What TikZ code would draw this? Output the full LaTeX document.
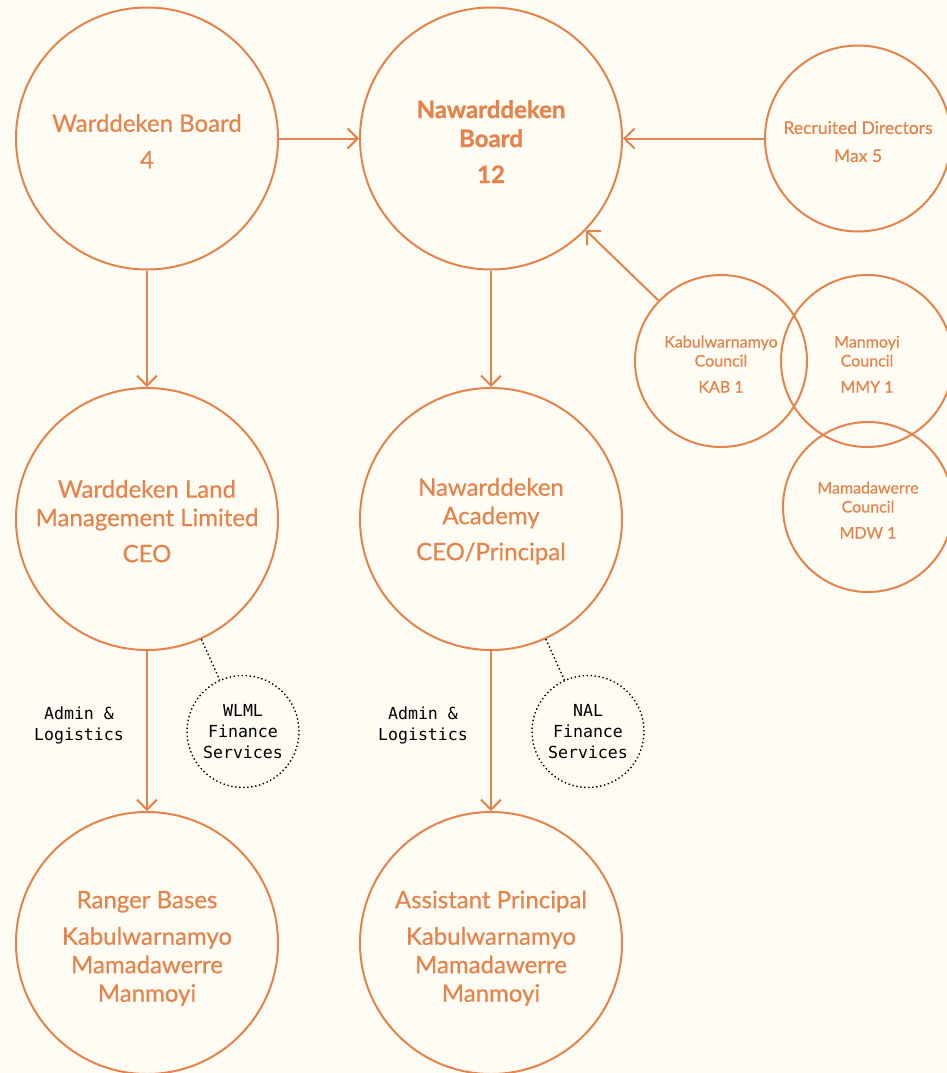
\documentclass[tikz,border=0pt]{standalone}
\usepackage{fontspec}
\setmainfont{Lato}[UprightFeatures={FakeBold=0.45}]
\newfontfamily\heavyfont{Lato}[UprightFeatures={FakeBold=1.2}, BoldFeatures={FakeBold=1.0}]
\newfontfamily\monofont{DejaVu Sans Mono}
\usetikzlibrary{arrows.meta}
\definecolor{ochre}{HTML}{E5834C}
\definecolor{paper}{HTML}{FFFCF4}
\newcommand{\topgap}[1]{\rule{0pt}{#1}}
\tikzset{every node/.style={align=center, text=ochre, font=\fontsize{24}{28.5}\selectfont}}
\tikzset{bigring/.style={circle, draw=ochre, line width=2pt, minimum size=262pt, inner sep=0pt},
  smallring/.style={circle, draw=ochre, line width=2pt, minimum size=172pt, inner sep=0pt,
    font=\fontsize{16}{19}\selectfont},
  finring/.style={circle, draw=black, line width=1.4pt, dash pattern=on 1.4pt off 2.6pt,
    minimum size=112pt, inner sep=0pt, text=black, font=\monofont\fontsize{16.6}{21}\selectfont},
  note/.style={text=black, font=\monofont\fontsize{16.6}{21}\selectfont},
  link/.style={draw=ochre, line width=2pt, -{Straight Barb[length=10pt,width=20pt]}},
  finlink/.style={draw=black, line width=1.4pt, dash pattern=on 1.4pt off 2.6pt}}

\begin{document}
\begin{tikzpicture}[x=1pt, y=-1pt]
  \fill[paper] (0,0) rectangle (947,1073);
  \useasboundingbox (0,0) rectangle (947,1073);
  % top row
  \node[bigring] (wboard) at (147,138.5) {\topgap{23pt}Warddeken Board\\[8pt]4};
  \node[bigring, font=\heavyfont\bfseries\fontsize{24}{29}\selectfont] (nboard) at (491,138.5)
       {\topgap{24pt}Nawarddeken\\Board\\[7pt]12};
  \node[smallring, minimum size=186pt, font=\fontsize{17.5}{21}\selectfont] (recruited) at (858,138.5)
       {\topgap{19pt}Recruited Directors\\[7pt]Max 5};
  % councils
  \node[smallring] (kab) at (721,361) {\topgap{18pt}Kabulwarnamyo\\Council\\[7pt]KAB 1};
  \node[smallring] (mmy) at (867,361) {\topgap{18pt}Manmoyi\\Council\\[7pt]MMY 1};
  \node[smallring, minimum size=170pt] (mdw) at (868,507) {\topgap{18pt}Mamadawerre\\Council\\[7pt]MDW 1};
  % middle row
  \node[bigring] (wlml) at (147,519) {\topgap{22pt}Warddeken Land\\Management Limited\\[7.5pt]CEO};
  \node[bigring] (nal) at (491,519) {\topgap{22pt}Nawarddeken\\Academy\\[7.5pt]CEO/Principal};
  \node[finring] (wlmlfin) at (243,731.5) {WLML\\Finance\\Services};
  \node[finring] (nalfin) at (588,731.5) {NAL\\Finance\\Services};
  \node[note] (wadmin) at (79,725) {Admin \&\\Logistics};
  \node[note] (nadmin) at (423,725) {Admin \&\\Logistics};
  % bottom row
  \node[bigring] (ranger) at (147,943) {\topgap{28pt}Ranger Bases\\[8pt]Kabulwarnamyo\\Mamadawerre\\Manmoyi};
  \node[bigring] (assist) at (491,943) {\topgap{28pt}Assistant Principal\\[8pt]Kabulwarnamyo\\Mamadawerre\\Manmoyi};
  % connectors
  \draw[link] (wboard) -- (nboard);
  \draw[link] (recruited) -- (nboard);
  \draw[link] (kab) -- (nboard);
  \draw[link] (wboard) -- (wlml);
  \draw[link] (nboard) -- (nal);
  \draw[link] (wlml) -- (ranger);
  \draw[link] (nal) -- (assist);
  \draw[finlink] (wlml) -- (wlmlfin);
  \draw[finlink] (nal) -- (nalfin);
\end{tikzpicture}
\end{document}
